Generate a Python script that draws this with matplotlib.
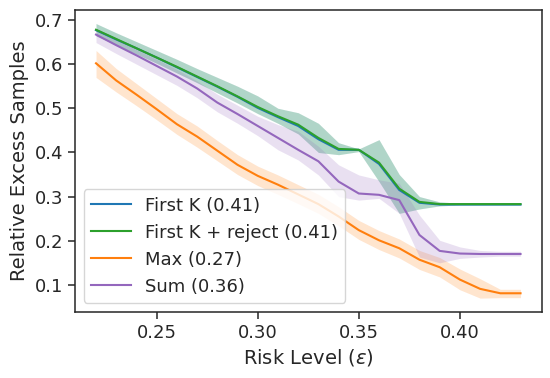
import matplotlib
matplotlib.use('Agg')
import matplotlib.pyplot as plt

# risk levels on the x axis
risk = [0.22, 0.23, 0.24, 0.25, 0.26, 0.27, 0.28, 0.29, 0.30, 0.31, 0.32,
        0.33, 0.34, 0.35, 0.36, 0.37, 0.38, 0.39, 0.40, 0.41, 0.42, 0.43]

# First K
firstk_mean = [0.677, 0.656, 0.636, 0.615, 0.593, 0.571, 0.549, 0.526, 0.501, 0.480, 0.460,
               0.430, 0.406, 0.406, 0.374, 0.315, 0.286, 0.282, 0.282, 0.282, 0.282, 0.282]
firstk_hi = [0.692, 0.671, 0.651, 0.631, 0.611, 0.590, 0.570, 0.550, 0.528, 0.500, 0.490,
             0.466, 0.422, 0.408, 0.429, 0.350, 0.300, 0.288, 0.285, 0.285, 0.285, 0.285]
firstk_lo = [0.664, 0.644, 0.623, 0.602, 0.580, 0.558, 0.535, 0.512, 0.488, 0.466, 0.442,
             0.400, 0.395, 0.402, 0.334, 0.262, 0.272, 0.279, 0.281, 0.281, 0.281, 0.281]

# First K + reject
reject_mean = [0.678, 0.657, 0.636, 0.615, 0.594, 0.572, 0.550, 0.527, 0.503, 0.482, 0.463,
               0.433, 0.408, 0.406, 0.377, 0.318, 0.288, 0.283, 0.283, 0.283, 0.283, 0.283]
reject_hi = [0.692, 0.671, 0.651, 0.631, 0.611, 0.590, 0.570, 0.550, 0.528, 0.500, 0.490,
             0.466, 0.422, 0.408, 0.429, 0.350, 0.300, 0.288, 0.285, 0.285, 0.285, 0.285]
reject_lo = [0.664, 0.644, 0.623, 0.602, 0.580, 0.558, 0.535, 0.512, 0.488, 0.466, 0.442,
             0.400, 0.395, 0.402, 0.334, 0.262, 0.272, 0.279, 0.281, 0.281, 0.281, 0.281]

# Max
max_mean = [0.602, 0.563, 0.531, 0.498, 0.464, 0.436, 0.404, 0.372, 0.347, 0.327, 0.305,
            0.283, 0.255, 0.224, 0.201, 0.183, 0.157, 0.140, 0.112, 0.091, 0.081, 0.081]
max_hi = [0.631, 0.590, 0.556, 0.522, 0.488, 0.460, 0.427, 0.395, 0.369, 0.349, 0.327,
          0.305, 0.277, 0.246, 0.223, 0.204, 0.178, 0.162, 0.136, 0.114, 0.090, 0.090]
max_lo = [0.570, 0.537, 0.506, 0.474, 0.441, 0.412, 0.381, 0.350, 0.325, 0.305, 0.284,
          0.262, 0.234, 0.203, 0.180, 0.161, 0.135, 0.118, 0.089, 0.070, 0.071, 0.071]

# Sum
sum_mean = [0.667, 0.643, 0.620, 0.596, 0.572, 0.545, 0.513, 0.487, 0.460, 0.433, 0.406,
            0.380, 0.334, 0.307, 0.304, 0.292, 0.213, 0.177, 0.171, 0.170, 0.170, 0.170]
sum_hi = [0.677, 0.655, 0.633, 0.611, 0.588, 0.562, 0.532, 0.507, 0.482, 0.463, 0.448,
          0.414, 0.372, 0.349, 0.338, 0.330, 0.258, 0.201, 0.186, 0.178, 0.176, 0.176]
sum_lo = [0.649, 0.624, 0.600, 0.576, 0.552, 0.524, 0.492, 0.466, 0.438, 0.406, 0.383,
          0.349, 0.300, 0.292, 0.296, 0.262, 0.163, 0.150, 0.160, 0.163, 0.165, 0.165]

labels = ['First K (0.41)', 'First K + reject (0.41)', 'Max (0.27)', 'Sum (0.36)']

TEXT = '#262626'
plt.rcParams['font.family'] = 'DejaVu Sans'
plt.rcParams['text.color'] = TEXT
plt.rcParams['axes.labelcolor'] = TEXT
plt.rcParams['xtick.color'] = TEXT
plt.rcParams['ytick.color'] = TEXT

fig, ax = plt.subplots(figsize=(5.5, 3.78), dpi=100)
fig.subplots_adjust(left=0.136, right=0.985, top=0.974, bottom=0.175)

series = [
    (firstk_mean, firstk_lo, firstk_hi, '#1f77b4'),
    (reject_mean, reject_lo, reject_hi, '#2ca02c'),
    (max_mean, max_lo, max_hi, '#ff7f0e'),
    (sum_mean, sum_lo, sum_hi, '#9467bd'),
]
for (mean, lo, hi, color), label in zip(series, labels):
    ax.fill_between(risk, lo, hi, color=color, alpha=0.2, linewidth=0)
    ax.plot(risk, mean, color=color, linewidth=1.5, label=label)

ax.set_xlabel(r'Risk Level ($\epsilon$)', fontsize=14)
ax.set_ylabel('Relative Excess Samples', fontsize=14)
ax.set_xticks([0.25, 0.30, 0.35, 0.40])
ax.set_yticks([0.1, 0.2, 0.3, 0.4, 0.5, 0.6, 0.7])
ax.tick_params(labelsize=13, length=5, width=1.1, direction='out')
for sp in ax.spines.values():
    sp.set_color(TEXT)
    sp.set_linewidth(1.1)

ax.legend(loc='lower left', fontsize=13, framealpha=0.8, edgecolor='#cccccc',
          handlelength=2.2)

plt.savefig('out.png', dpi=100)
